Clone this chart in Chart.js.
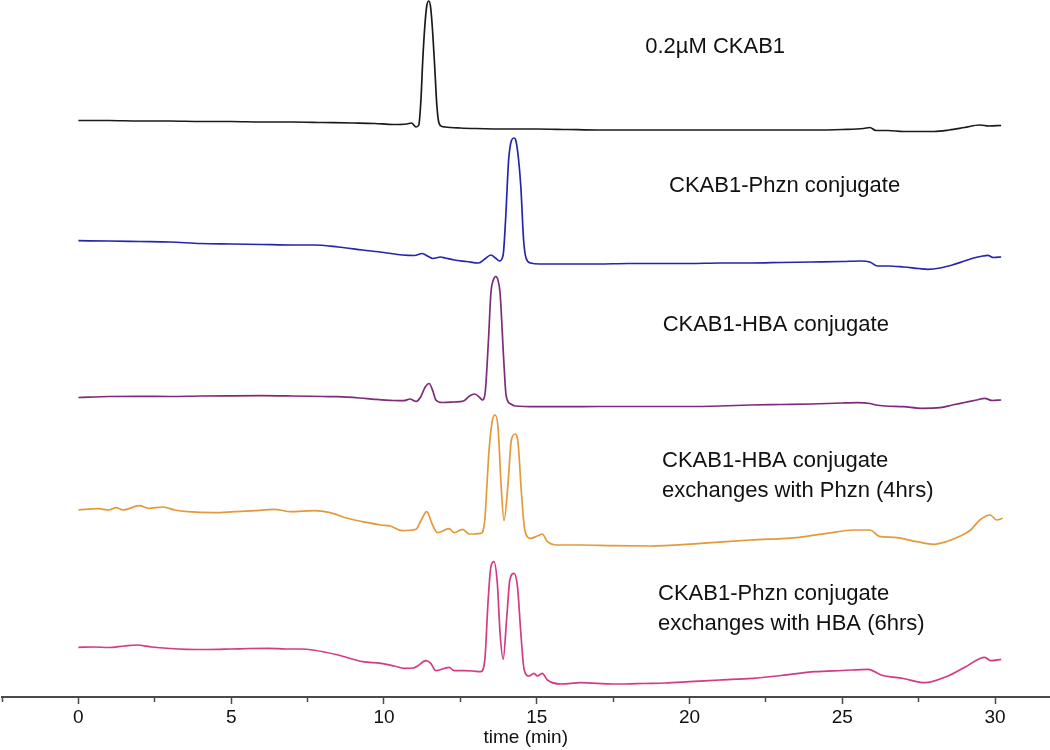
<!DOCTYPE html>
<html>
<head>
<meta charset="utf-8">
<script src="https://cdn.jsdelivr.net/npm/chart.js@4.4.1/dist/chart.umd.min.js"></script>
<style>
  html, body { margin: 0; padding: 0; background: #ffffff; }
  #wrap { width: 1050px; height: 750px; position: relative; }
</style>
</head>
<body>
<div id="wrap"><canvas id="c" width="1050" height="750"></canvas></div>
<script>
// ---- Data (time in min, signal in arbitrary units relative to each trace's baseline) ----
const seriesNames = ["0.2µM CKAB1", "CKAB1-Phzn conjugate", "CKAB1-HBA conjugate",
  "CKAB1-HBA conjugate exchanges with Phzn (4hrs)", "CKAB1-Phzn conjugate exchanges with HBA (6hrs)"];
const seriesColors = ["#1a1a1a", "#2626aa", "#7c2c78", "#e39a3c", "#d23b85"];
const seriesOffsets = [57.7, 45.6, 30.0, 18.7, 4.9];

const timeA = [0,1,2,3,4,5,6,7,8,9,9.7,10.3,10.75,10.9,11.05,11.14,11.21,11.27,11.34,11.40,11.47,11.53,11.60,11.67,11.73,11.80,11.9,12.0,12.5,13,14,15,16,17,18,19,20,21,22,23,24,25,25.7,25.9,26.1,26.5,27,27.5,28,28.5,29,29.5,29.8,30.2];
const signalA = [-0.05,-0.05,-0.1,-0.1,-0.15,-0.15,-0.2,-0.2,-0.25,-0.3,-0.35,-0.45,-0.4,-0.3,-0.7,-0.5,2.0,6.0,9.5,11.4,11.9,11.2,8.5,4.8,1.5,-0.3,-0.65,-0.7,-0.8,-0.85,-0.9,-0.9,-0.95,-1.0,-1.0,-1.0,-1.0,-1.0,-1.0,-1.0,-1.0,-0.95,-0.85,-0.75,-1.05,-1.05,-1.15,-1.15,-1.15,-1.0,-0.75,-0.5,-0.6,-0.55];

const timeB = [0,1,2,3,4,5,6,7,7.7,8.5,9.3,10,10.6,11.0,11.25,11.45,11.6,11.85,12.0,12.3,12.7,13.1,13.3,13.5,13.65,13.78,13.9,13.98,14.08,14.18,14.26,14.32,14.40,14.48,14.57,14.65,14.8,15.1,16,17,18,19,20,21,22,23,24,25,25.6,25.9,26.15,26.5,27,27.5,27.8,28.2,28.6,29,29.3,29.6,29.76,29.95,30.2];
const signalB = [0.03,0,-0.05,-0.1,-0.25,-0.3,-0.35,-0.4,-0.4,-0.6,-0.9,-1.15,-1.4,-1.45,-1.25,-1.55,-1.75,-1.6,-1.7,-1.9,-2.05,-2.2,-1.8,-1.4,-1.7,-2.0,-1.4,2.1,8.1,10.1,10.3,10.0,8.3,5.4,0.1,-1.7,-2.2,-2.3,-2.3,-2.3,-2.25,-2.25,-2.25,-2.2,-2.2,-2.15,-2.1,-2.05,-2.0,-2.1,-2.5,-2.5,-2.6,-2.75,-2.83,-2.7,-2.4,-2.0,-1.7,-1.5,-1.43,-1.65,-1.6];

const timeC = [0,1,2,3,4,5,6,7,8,8.5,9.2,9.7,10.3,10.65,10.85,11.05,11.2,11.35,11.48,11.6,11.7,11.9,12.3,12.6,12.8,12.97,13.15,13.22,13.31,13.42,13.5,13.58,13.66,13.73,13.8,13.92,14.0,14.15,14.3,15,16,17,18,19,20,21,22,23,24,25,25.5,25.9,26.1,26.4,27,27.6,28.2,28.6,29.0,29.4,29.66,29.9,30.2];
const signalC = [-0.05,0.05,0.07,0.05,0.1,0.12,0.13,0.1,0.05,0.03,-0.1,-0.23,-0.35,-0.37,-0.2,-0.45,0,1.0,1.35,0.6,-0.3,-0.55,-0.5,-0.4,0.1,0.3,-0.1,-0.3,0.4,5.7,10.4,11.7,12.05,11.7,10.4,3.7,0.1,-0.7,-0.9,-0.97,-0.97,-0.95,-0.95,-0.95,-0.95,-0.9,-0.8,-0.75,-0.7,-0.6,-0.57,-0.65,-0.8,-0.9,-0.97,-1.13,-1.07,-0.8,-0.55,-0.3,-0.13,-0.35,-0.3];

const timeD = [0,0.64,1.0,1.24,1.45,2.0,2.3,2.77,3.15,3.58,4.45,5.1,5.76,6.4,6.96,7.72,8.2,8.8,9.47,9.9,10.2,10.6,11.05,11.22,11.4,11.59,11.75,12.13,12.3,12.57,12.79,13.17,13.3,13.37,13.44,13.55,13.64,13.74,13.83,13.93,14.06,14.17,14.29,14.39,14.5,14.61,14.8,15.02,15.18,15.35,15.68,16.44,17.5,18.7,20.36,22,23.6,24.5,25.37,25.9,26.24,26.7,27.44,28,28.4,28.86,29.2,29.5,29.84,30.05,30.25];
const signalD = [0,0.13,0,0.23,0,0.43,0.17,0.3,0,-0.17,-0.27,-0.17,-0.07,0.07,-0.17,-0.07,-0.23,-0.83,-1.27,-1.5,-1.6,-2.07,-1.93,-1.0,-0.17,-1.5,-2.27,-1.87,-2.27,-1.93,-2.4,-2.33,-1.0,2.5,6.0,9.0,9.5,8.0,2.67,-1.07,2.67,7.0,7.6,6.67,1.67,-2.0,-2.83,-2.6,-2.4,-3.17,-3.5,-3.5,-3.57,-3.6,-3.33,-3.0,-2.73,-2.33,-2.0,-2.0,-2.67,-2.73,-3.17,-3.43,-3.17,-2.6,-2.0,-1.0,-0.5,-1.0,-0.83];

const timeE = [0,0.5,1.0,1.5,1.9,2.4,3.0,3.55,4.2,5.0,5.6,6.2,6.8,7.3,7.67,8.5,9.3,9.9,10.34,10.67,10.95,11.1,11.37,11.53,11.7,12.13,12.3,12.62,12.9,13.17,13.3,13.41,13.5,13.6,13.71,13.8,13.9,14.02,14.12,14.26,14.37,14.48,14.59,14.75,14.91,15.02,15.18,15.35,15.8,16.44,17.5,17.9,18.5,19.2,20,21,22.06,23.0,24.1,25.0,25.85,26.27,27.0,27.7,28.4,29.04,29.66,29.86,30.2];
const signalE = [0.07,0.1,0.05,0.2,0.3,0.1,-0.05,-0.13,-0.15,-0.1,-0.05,-0.03,-0.1,-0.1,-0.2,-0.7,-1.37,-1.53,-1.8,-2.03,-2.0,-1.8,-1.27,-1.53,-2.27,-1.93,-2.27,-2.27,-2.3,-2.37,-1.2,4.8,8.13,8.63,6.47,1.47,-1.13,3.13,6.8,7.47,6.13,1.47,-2.2,-2.8,-2.53,-2.8,-2.53,-3.2,-3.6,-3.47,-3.6,-3.6,-3.55,-3.5,-3.37,-3.2,-3.03,-2.75,-2.37,-2.25,-2.13,-2.7,-3.05,-3.47,-2.87,-1.87,-0.93,-1.27,-1.13];

const seriesTimes = [timeA, timeB, timeC, timeD, timeE];
const seriesSignals = [signalA, signalB, signalC, signalD, signalE];

// Annotation labels: anchor (time, a.u.) of first line's left/middle
const labelLines = [["0.2µM CKAB1"], ["CKAB1-Phzn conjugate"], ["CKAB1-HBA conjugate"],
  ["CKAB1-HBA conjugate", "exchanges with Phzn (4hrs)"],
  ["CKAB1-Phzn conjugate", "exchanges with HBA (6hrs)"]];
const labelTimes = [18.55, 19.33, 19.12, 19.1, 18.97];
const labelValues = [65.0, 51.1, 37.2, 23.6, 10.3];
const labelLineStep = 2.95;

// x-axis
const xMin = -2.516, xMax = 31.797;
const xMajorStep = 5, xMinorStep = 2.5;
const xTitle = "time (min)";
const yMin = 0, yMax = 69.7;

// ---- Build datasets ----
const datasets = seriesNames.map((name, i) => ({
  label: name,
  data: seriesTimes[i].map((t, k) => ({ x: t, y: seriesSignals[i][k] + seriesOffsets[i] })),
  borderColor: seriesColors[i],
  borderWidth: 1.7,
  pointRadius: 0,
  showLine: true,
  fill: false,
  cubicInterpolationMode: 'monotone'
}));

const labelPlugin = {
  id: 'traceLabels',
  afterDatasetsDraw(chart) {
    const ctx = chart.ctx;
    const xs = chart.scales.x, ys = chart.scales.y;
    ctx.save();
    ctx.fillStyle = '#111';
    ctx.font = '22px "Liberation Sans", Arial, sans-serif';
    ctx.textAlign = 'left';
    ctx.textBaseline = 'middle';
    labelLines.forEach((lines, i) => {
      const x = xs.getPixelForValue(labelTimes[i]);
      lines.forEach((txt, j) => {
        const y = ys.getPixelForValue(labelValues[i] - j * labelLineStep);
        ctx.fillText(txt, x, y);
      });
    });
    ctx.restore();
  }
};

const isMajor = v => Math.abs(v / xMajorStep - Math.round(v / xMajorStep)) < 1e-6;

new Chart(document.getElementById('c'), {
  type: 'scatter',
  data: { datasets },
  options: {
    responsive: false,
    animation: false,
    layout: { padding: 0 },
    plugins: { legend: { display: false }, tooltip: { enabled: false } },
    scales: {
      x: {
        type: 'linear',
        position: 'bottom',
        min: xMin, max: xMax,
        afterFit: s => { s.height = 53; },
        border: { display: true, color: '#4a4a4a', width: 2 },
        grid: {
          drawOnChartArea: false,
          drawTicks: true,
          tickLength: 7,
          tickWidth: 1.5,
          tickColor: '#4a4a4a',
          tickBorderDash: ctx => (ctx.tick && isMajor(ctx.tick.value)) ? [] : [4, 20]
        },
        ticks: {
          stepSize: xMinorStep,
          includeBounds: false,
          autoSkip: false,
          maxRotation: 0,
          padding: 2,
          color: '#111',
          font: { family: '"Liberation Sans", Arial, sans-serif', size: 19 },
          callback: v => isMajor(v) ? String(Math.round(v)) : ''
        },
        title: {
          display: true,
          text: xTitle,
          color: '#111',
          font: { family: '"Liberation Sans", Arial, sans-serif', size: 19 },
          padding: { top: 0, bottom: 1 }
        }
      },
      y: { display: false, min: yMin, max: yMax }
    }
  },
  plugins: [labelPlugin]
});
</script>
</body>
</html>
